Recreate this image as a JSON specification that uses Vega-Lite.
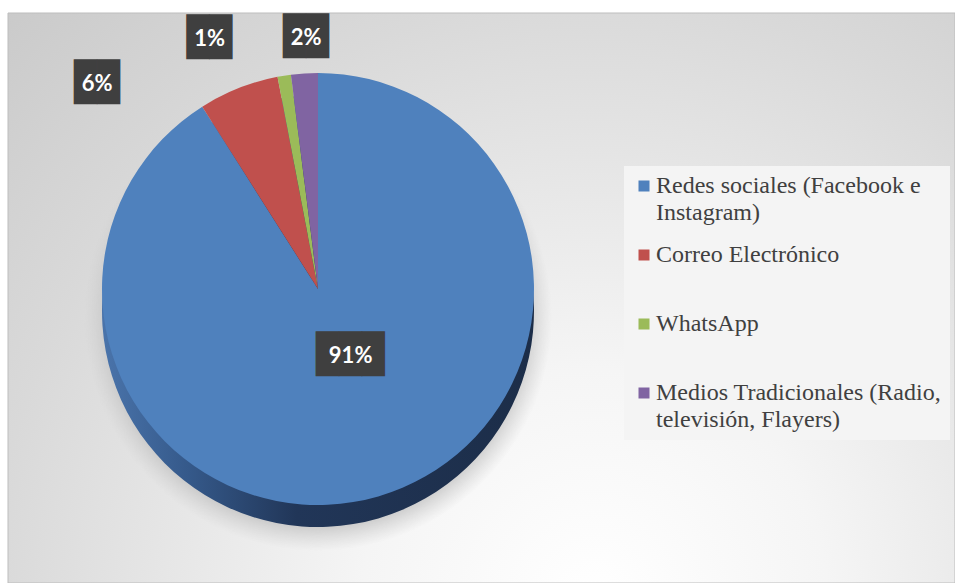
{
  "$schema": "https://vega.github.io/schema/vega-lite/v6.json",
  "width": 947,
  "height": 570,
  "autosize": "none",
  "padding": {"left": 8, "top": 13, "right": 0, "bottom": 0},
  "background": "#ffffff",
  "datasets": {
    "canales": [
      {"canal": "Redes sociales (Facebook e Instagram)", "pct": 0.91, "orden": 1},
      {"canal": "Correo Electrónico", "pct": 0.06, "orden": 2},
      {"canal": "WhatsApp", "pct": 0.01, "orden": 3},
      {"canal": "Medios Tradicionales (Radio, televisión, Flayers)", "pct": 0.02, "orden": 4}
    ],
    "fondo": [{"area": "grafico"}]
  },
  "layer": [
    {
      "data": {"name": "fondo"},
      "mark": {
        "type": "rect",
        "stroke": "#bdbdbd",
        "strokeWidth": 1,
        "color": {
          "gradient": "radial",
          "x1": 0.62, "y1": 0.82, "r1": 0,
          "x2": 0.62, "y2": 0.82, "r2": 0.98,
          "stops": [
            {"offset": 0, "color": "#ffffff"},
            {"offset": 0.25, "color": "#f5f5f5"},
            {"offset": 0.65, "color": "#d9d9d9"},
            {"offset": 1, "color": "#c4c4c4"}
          ]
        }
      },
      "encoding": {}
    },
    {
      "data": {"name": "canales"},
      "encoding": {
        "theta": {"field": "pct", "type": "quantitative", "stack": true},
        "order": {"field": "orden", "type": "quantitative"},
        "x": {"value": 310},
        "y": {"value": 276}
      },
      "layer": [
        {
          "mark": {
            "type": "arc",
            "outerRadius": 234,
            "yOffset": 28,
            "color": {
              "gradient": "radial",
              "x1": 0.5, "y1": 0.5, "r1": 0,
              "x2": 0.5, "y2": 0.5, "r2": 0.5,
              "stops": [
                {"offset": 0, "color": "#b4b4b4"},
                {"offset": 0.86, "color": "#bbbbbb"},
                {"offset": 1, "color": "rgba(205,205,205,0)"}
              ]
            }
          }
        },
        {
          "mark": {
            "type": "arc",
            "outerRadius": 216,
            "yOffset": 22,
            "color": {
              "gradient": "linear",
              "x1": 0, "y1": 0, "x2": 1, "y2": 0,
              "stops": [
                {"offset": 0, "color": "#4a74ab"},
                {"offset": 0.2, "color": "#35598a"},
                {"offset": 0.45, "color": "#213658"},
                {"offset": 1, "color": "#1c2d48"}
              ]
            }
          }
        },
        {
          "mark": {"type": "arc", "outerRadius": 216},
          "encoding": {
            "color": {
              "field": "canal",
              "type": "nominal",
              "scale": {
                "domain": [
                  "Redes sociales (Facebook e Instagram)",
                  "Correo Electrónico",
                  "WhatsApp",
                  "Medios Tradicionales (Radio, televisión, Flayers)"
                ],
                "range": ["#4f81bd", "#c0504d", "#9bbb59", "#8064a2"]
              },
              "legend": {
                "orient": "none",
                "legendX": 616,
                "legendY": 153,
                "title": null,
                "fillColor": "#f4f4f4",
                "padding": 8,
                "symbolType": "square",
                "symbolSize": 121,
                "symbolStrokeWidth": 0,
                "labelFont": "Liberation Serif",
                "labelFontSize": 24,
                "labelColor": "#404040",
                "labelOffset": 0,
                "labelLimit": 400,
                "rowPadding": 18,
                "gridAlign": "all",
                "labelExpr": "datum.value == 'Redes sociales (Facebook e Instagram)' ? ['Redes sociales (Facebook e', 'Instagram)'] : datum.value == 'Medios Tradicionales (Radio, televisión, Flayers)' ? ['Medios Tradicionales (Radio,', 'televisión, Flayers)'] : datum.value"
              }
            }
          }
        },
        {
          "mark": {
            "type": "text",
            "font": "DejaVu Sans Mono",
            "fontSize": 38,
            "color": "#3f3f3f",
            "baseline": "middle",
            "align": "center",
            "radius": {"expr": "datum.pct > 0.5 ? 74 : 252"},
            "dx": {"expr": "datum.orden == 2 ? -128 : datum.orden == 3 ? -69 : datum.orden == 1 ? 12 : 4"},
            "dy": {"expr": "datum.orden == 2 ? 29 : datum.orden == 3 ? -1 : datum.orden == 1 ? -4 : 1"}
          },
          "encoding": {
            "text": {"condition": {"test": "datum.pct > 0.5", "value": "███"}, "value": "██"}
          }
        },
        {
          "mark": {
            "type": "text",
            "font": "Lato",
            "fontWeight": "bold",
            "fontSize": 22,
            "color": "#ffffff",
            "baseline": "middle",
            "align": "center",
            "radius": {"expr": "datum.pct > 0.5 ? 74 : 252"},
            "dx": {"expr": "datum.orden == 2 ? -128 : datum.orden == 3 ? -69 : datum.orden == 1 ? 12 : 4"},
            "dy": {"expr": "datum.orden == 2 ? 29 : datum.orden == 3 ? -1 : datum.orden == 1 ? -4 : 1"}
          },
          "encoding": {
            "text": {"field": "pct", "type": "quantitative", "format": ".0%"}
          }
        }
      ]
    }
  ],
  "config": {
    "view": {"stroke": null},
    "style": {"guide-label": {"lineHeight": 27}}
  }
}
